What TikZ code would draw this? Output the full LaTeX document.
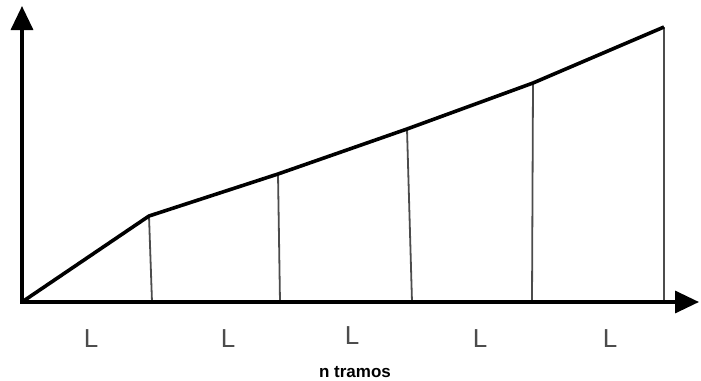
\documentclass[tikz,border=0pt]{standalone}
\usepackage{fontspec}
\setmainfont{Liberation Sans}
\usetikzlibrary{arrows.meta}
\begin{document}
\begin{tikzpicture}[x=1pt,y=-1pt,
  axis/.style={line width=3.4pt,-{Triangle[length=24pt,width=22pt]}},
  poly/.style={line width=3.6pt,line join=round},
  vline/.style={line width=1.8pt,black!70},
  lab/.style={font=\fontsize{26}{26}\selectfont,text=black!70,anchor=base,inner sep=0pt}]
\useasboundingbox (0,0) rectangle (701,380);
\coordinate (o) at (22,302);
\coordinate (ytip) at (22,6);
\coordinate (xtip) at (699,302);
\coordinate (p1) at (149,216);
\coordinate (p2) at (278,174);
\coordinate (p3) at (407,129);
\coordinate (p4) at (533,83);
\coordinate (p5) at (664,27);
\coordinate (b1) at (152,302);
\coordinate (b2) at (280,302);
\coordinate (b3) at (412,302);
\coordinate (b4) at (532,302);
\coordinate (b5) at (664,302);
\draw[vline] (p1) -- (b1);
\draw[vline] (p2) -- (b2);
\draw[vline] (p3) -- (b3);
\draw[vline] (p4) -- (b4);
\draw[vline] (p5) -- (b5);
\draw[axis] (o) -- (ytip);
\draw[axis] ([xshift=-1.7pt]o) -- (xtip);
\draw[poly] (o) -- (p1) -- (p2) -- (p3) -- (p4) -- (p5);
\node[lab] (l1) at (91,347) {L};
\node[lab] (l2) at (228,347) {L};
\node[lab] (l3) at (352,344) {L};
\node[lab] (l4) at (480,347) {L};
\node[lab] (l5) at (610,347) {L};
\node[font=\fontsize{17}{17}\selectfont\bfseries,anchor=base,inner sep=0pt] (nt) at (355,377) {n tramos};
\end{tikzpicture}
\end{document}
